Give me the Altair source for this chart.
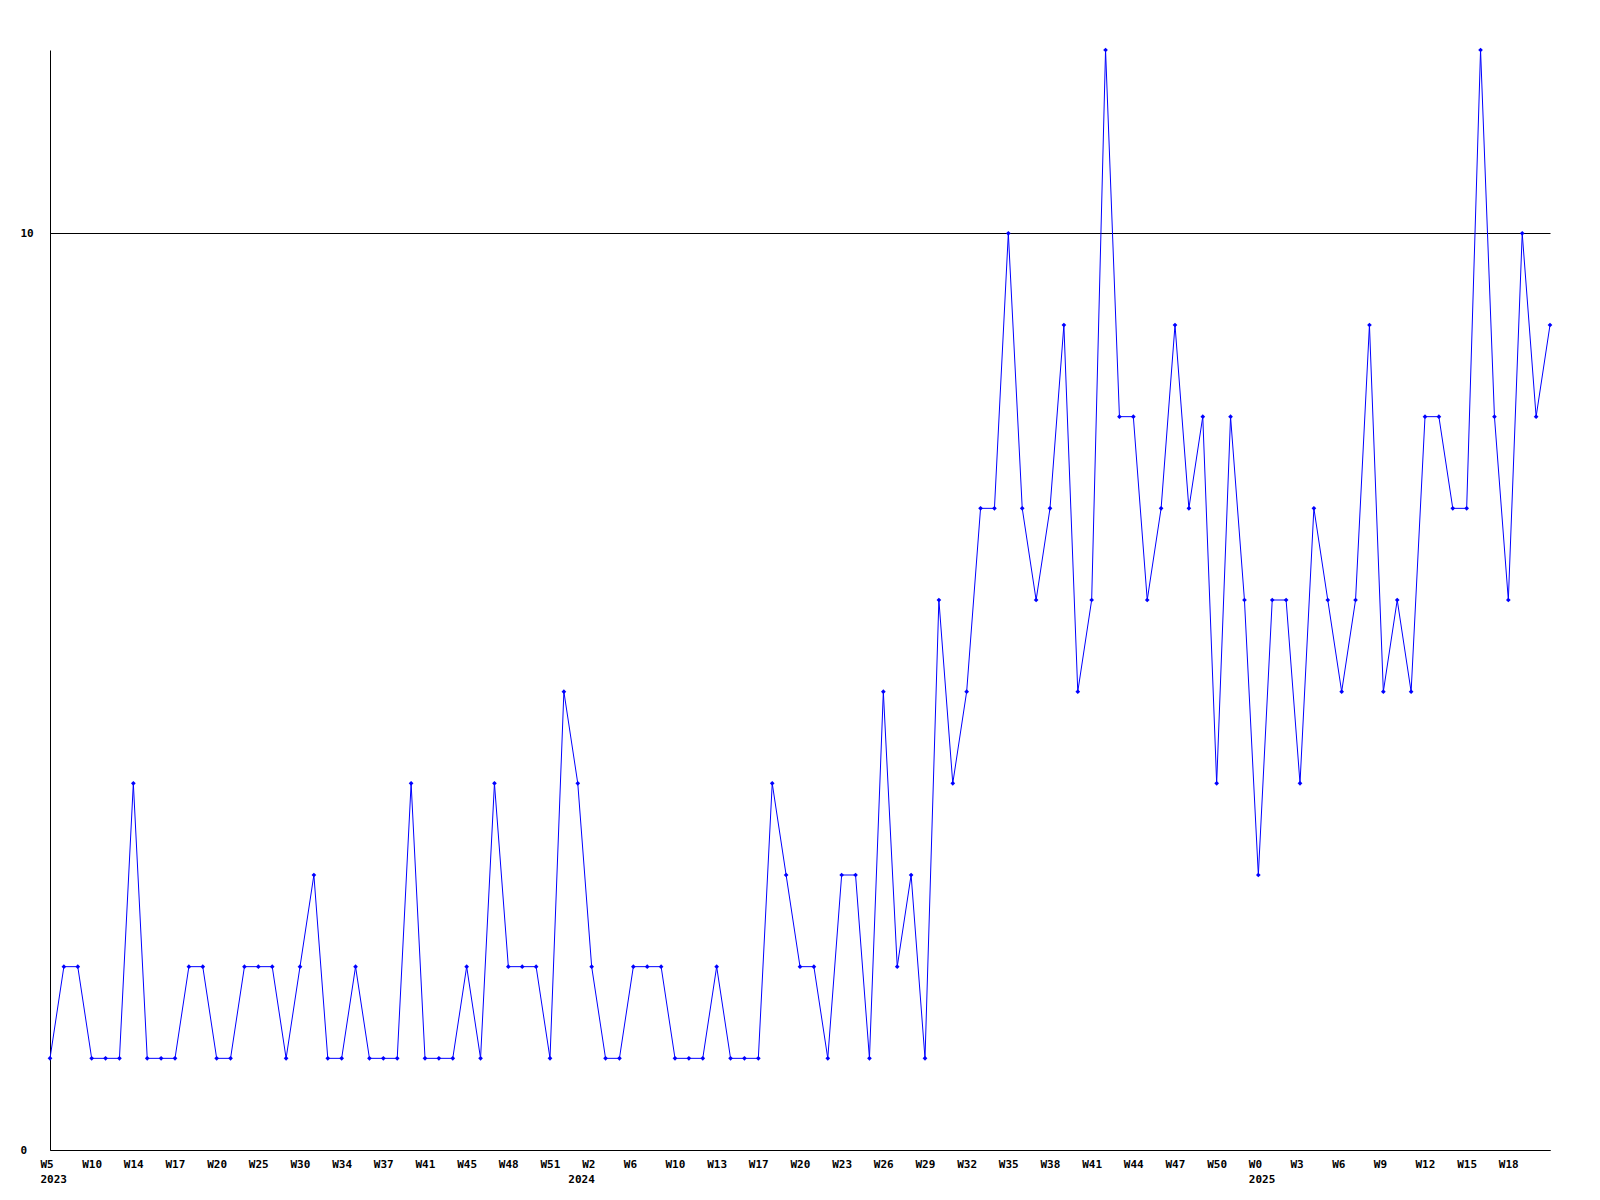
import altair as alt
import pandas as pd

# weekly counts, one per point
values = [
    1, 2, 2, 1, 1, 1, 4, 1, 1, 1,
    2, 2, 1, 1, 2, 2, 2, 1, 2, 3,
    1, 1, 2, 1, 1, 1, 4, 1, 1, 1,
    2, 1, 4, 2, 2, 2, 1, 5, 4, 2,
    1, 1, 2, 2, 2, 1, 1, 1, 2, 1,
    1, 1, 4, 3, 2, 2, 1, 3, 3, 1,
    5, 2, 3, 1, 6, 4, 5, 7, 7, 10,
    7, 6, 7, 9, 5, 6, 12, 8, 8, 6,
    7, 9, 7, 8, 4, 8, 6, 3, 6, 6,
    4, 7, 6, 5, 6, 9, 5, 6, 5, 8,
    8, 7, 7, 12, 8, 6, 10, 8, 9,
]
assert len(values) == 109

# tick labels, one every third point
week_labels = [
    "W5", "W10", "W14", "W17", "W20", "W25", "W30", "W34", "W37", "W41", "W45", "W48", "W51",
    "W2", "W6", "W10", "W13", "W17", "W20", "W23", "W26", "W29", "W32", "W35", "W38", "W41",
    "W44", "W47", "W50",
    "W0", "W3", "W6", "W9", "W12", "W15", "W18",
]
# year label at the first point of each year
year_points = [0, 38, 87]
year_names = ["2023", "2024", "2025"]
y_ticks = [0, 10]

df = pd.DataFrame({"idx": list(range(len(values))), "value": values})
tick_positions = sorted(set([3 * k for k in range(len(week_labels))] + year_points))

weeks_js = "[" + ",".join(f"'{w}'" for w in week_labels) + "]"
expr = f"datum.value % 3 == 0 ? {weeks_js}[floor(datum.value / 3)] : ''"
for p, yr in zip(year_points, year_names):
    first = f"{weeks_js}[{p // 3}]" if p % 3 == 0 else "''"
    expr = f"datum.value == {p} ? [{first}, '{yr}'] : ({expr})"

font = "DejaVu Sans Mono"

x = alt.X(
    "idx:Q",
    scale=alt.Scale(domain=[0, len(values) - 1], nice=False, zero=False),
    axis=alt.Axis(
        title=None,
        values=tick_positions,
        labelExpr=expr,
        ticks=False,
        tickSize=0,
        grid=False,
        domainColor="black",
        domainWidth=1,
        labelAlign="left",
        labelOffset=-10,
        labelBaseline="top",
        labelPadding=8,
        labelFlush=False,
        labelOverlap=False,
        labelLineHeight=15,
        labelFont=font,
        labelFontWeight="bold",
        labelFontSize=11,
        labelColor="black",
    ),
)
y = alt.Y(
    "value:Q",
    scale=alt.Scale(domain=[0, 12], nice=False),
    axis=alt.Axis(
        title=None,
        values=y_ticks,
        ticks=False,
        tickSize=0,
        grid=True,
        gridColor="black",
        gridWidth=1,
        gridOpacity=1,
        domainColor="black",
        domainWidth=1,
        labelAlign="left",
        labelPadding=30,
        labelFont=font,
        labelFontWeight="bold",
        labelFontSize=11,
        labelColor="black",
    ),
)

base = alt.Chart(df).encode(x=x, y=y)
line = base.mark_line(color="#0000ff", strokeWidth=1)
pts = base.mark_point(shape="diamond", filled=True, size=22, color="#0000ff", opacity=1)

chart = (
    (line + pts)
    .properties(
        width=1500,
        height=1100,
        autosize=alt.AutoSizeParams(type="none"),
        padding={"left": 42, "top": 42, "right": 30, "bottom": 40},
        background="white",
    )
    .configure_view(strokeWidth=0)
)

chart.save("out.html", embed_options={"renderer": "svg", "actions": False})
